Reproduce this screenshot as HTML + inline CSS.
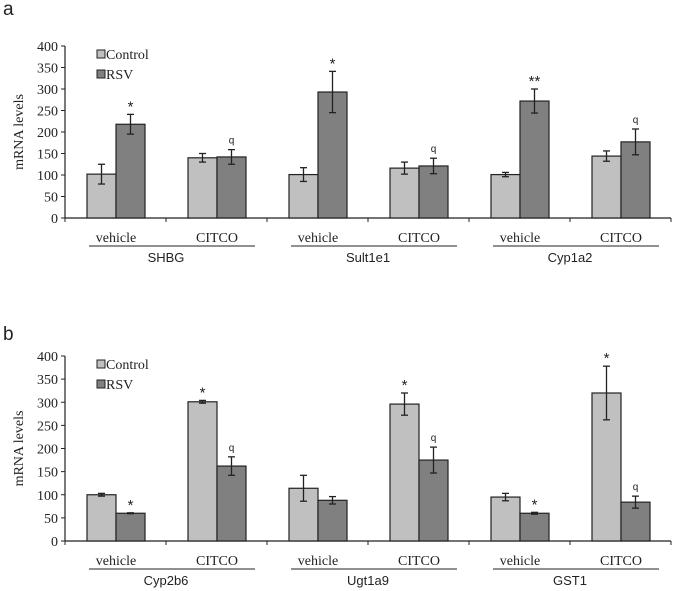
<!DOCTYPE html>
<html><head><meta charset="utf-8"><style>
body{margin:0;background:#fff;}
svg{display:block;}
.tk{font-family:"Liberation Serif",serif;font-size:14px;fill:#222;}
.gn{font-family:"Liberation Sans",sans-serif;font-size:13px;fill:#222;}
</style></head><body>
<svg id="chart" width="675" height="591" viewBox="0 0 675 591" xmlns="http://www.w3.org/2000/svg"></svg>
<script>
const genesA = ["SHBG","Sult1e1","Cyp1a2"];
const genesB = ["Cyp2b6","Ugt1a9","GST1"];
const treatments = ["vehicle","CITCO"];
const ticks = [0,50,100,150,200,250,300,350,400];
// order: gene0-vehicle, gene0-CITCO, gene1-vehicle, ...
const ctrlA = [102,140,101,116,101,144];
const ctrlErrA = [23,10,16,14,5,12];
const rsvA = [218,142,293,121,272,177];
const rsvErrA = [23,17,48,18,28,30];
const ctrlMarkA = ["","","","","",""];
const rsvMarkA = ["*","q","*","q","**","q"];
const ctrlB = [100,301,114,296,95,320];
const ctrlErrB = [3,3,28,24,8,58];
const rsvB = [60,162,88,175,60,84];
const rsvErrB = [1,20,8,28,2,13];
const ctrlMarkB = ["","*","","*","","*"];
const rsvMarkB = ["*","q","","q","*","q"];

const NS="http://www.w3.org/2000/svg";
const svg=document.getElementById('chart');
function mk(tag,attrs,parent){const e=document.createElementNS(NS,tag);for(const k in attrs)e.setAttribute(k,attrs[k]);(parent||svg).appendChild(e);return e;}

function panel(letter,top,y0,y400,genes,ctrl,ctrlErr,rsv,rsvErr,cm,rm){
  const g=mk('g',{});
  
  
  const ax=65, gw=101, bw=29, off=22;
  const yS=v=>y0-(v/400)*(y0-y400);
  const lab=mk('text',{x:3,y:top+15,'font-family':'Liberation Sans, sans-serif','font-size':19,fill:'#222'},g);
  lab.textContent=letter;
  
  
  const yaxis=mk('line',{x1:ax,y1:y400,x2:ax,y2:y0,stroke:'#222','stroke-width':1.2},g);
  
  
  ticks.forEach(t=>{
    mk('line',{x1:ax-4,y1:yS(t),x2:ax,y2:yS(t),stroke:'#222','stroke-width':1},g);
    const tl=mk('text',{x:ax-7,y:yS(t)+5,'text-anchor':'end',class:'tk'},g);
    tl.textContent=t;
    
    
  });
  const yt=mk('text',{x:0,y:0,class:'tk','text-anchor':'middle',transform:`translate(23,${(y0+y400)/2}) rotate(-90)`},g);
  yt.textContent='mRNA levels';
  
  
  const xaxis=mk('line',{x1:ax,y1:y0,x2:ax+6*gw,y2:y0,stroke:'#222','stroke-width':1.2},g);
  
  
  for(let i=0;i<=6;i++) mk('line',{x1:ax+i*gw,y1:y0,x2:ax+i*gw,y2:y0+4,stroke:'#222','stroke-width':1},g);
  function bar(x,v,e,col,mark,name){
    const r=mk('rect',{x:x,y:yS(v),width:bw,height:y0-yS(v),fill:col,stroke:'#222','stroke-width':1.2},g);
    
    
    const cx=x+bw/2;
    mk('line',{x1:cx,y1:yS(v+e),x2:cx,y2:yS(v-e),stroke:'#222','stroke-width':1.3},g);
    mk('line',{x1:cx-3.5,y1:yS(v+e),x2:cx+3.5,y2:yS(v+e),stroke:'#222','stroke-width':1.3},g);
    mk('line',{x1:cx-3.5,y1:yS(v-e),x2:cx+3.5,y2:yS(v-e),stroke:'#222','stroke-width':1.3},g);
    if(mark){
      const isQ=mark==='q';
      const t=mk('text',{x:cx,y:yS(v+e)-(isQ?6:3),'text-anchor':'middle','font-family':'Liberation Sans, sans-serif','font-size':isQ?10:15,fill:'#222'},g);
      t.textContent=mark;
      
      
    }
  }
  for(let i=0;i<6;i++){
    const gx=ax+i*gw+off;
    bar(gx,ctrl[i],ctrlErr[i],'#c0c0c0',cm[i],'bar-control-'+i);
    bar(gx+bw,rsv[i],rsvErr[i],'#808080',rm[i],'bar-rsv-'+i);
    const tl=mk('text',{x:gx+bw,y:y0+24,'text-anchor':'middle',class:'tk'},g);
    tl.textContent=treatments[i%2];
    
    
  }
  for(let j=0;j<3;j++){
    const sx=ax+j*2*gw;
    mk('line',{x1:sx+24,y1:y0+28,x2:sx+190,y2:y0+28,stroke:'#222','stroke-width':1},g);
    const gl=mk('text',{x:sx+gw,y:y0+44,'text-anchor':'middle',class:'gn'},g);
    gl.textContent=genes[j];
    
    
  }
  [['Control','#c0c0c0'],['RSV','#808080']].forEach((l,k)=>{
    const ly=y400+8+k*20;
    const sw=mk('rect',{x:97,y:ly-4,width:8,height:8,fill:l[1],stroke:'#222','stroke-width':1},g);
    
    
    const lt=mk('text',{x:106,y:ly+5,class:'tk'},g);
    lt.textContent=l[0];
    
    
  });
}
panel('a',0,218,46,genesA,ctrlA,ctrlErrA,rsvA,rsvErrA,ctrlMarkA,rsvMarkA);
panel('b',325,541,356,genesB,ctrlB,ctrlErrB,rsvB,rsvErrB,ctrlMarkB,rsvMarkB);
</script>
</body></html>
